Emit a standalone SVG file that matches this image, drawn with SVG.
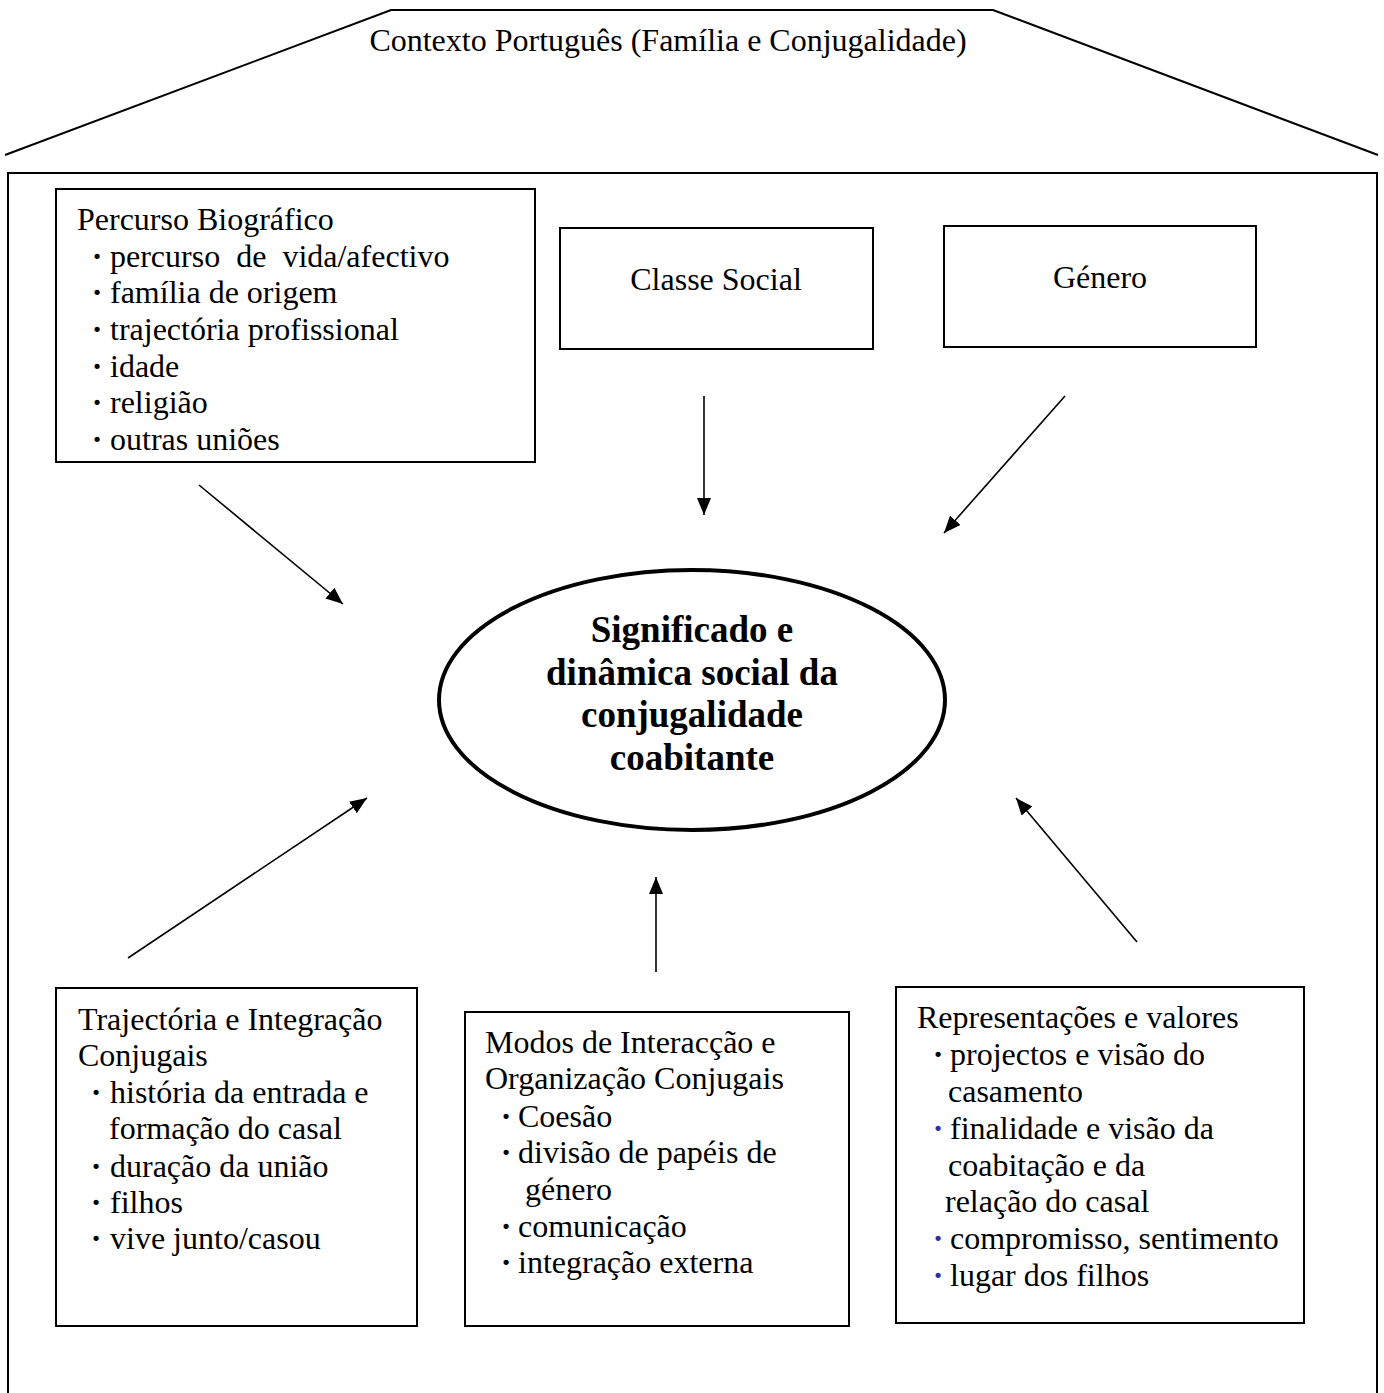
<svg xmlns="http://www.w3.org/2000/svg" width="1384" height="1393" viewBox="0 0 1384 1393">
<style>
text{font-family:"Liberation Serif","Times New Roman",serif;font-size:32px;fill:#000;white-space:pre}
.c{text-anchor:middle}
.b{font-weight:bold;font-size:37px}
.dot{text-anchor:middle;font-weight:bold}
.blue{fill:#2e2ea0}
.box{fill:#fff;stroke:#000;stroke-width:2}
.arr{stroke:#000;stroke-width:1.6;fill:none;marker-end:url(#ah)}
</style>
<defs>
<marker id="ah" markerUnits="userSpaceOnUse" markerWidth="18" markerHeight="14" refX="17" refY="7" orient="auto">
<path d="M0,0 L17,7 L0,14 z" fill="#000"/>
</marker>
</defs>
<rect width="1384" height="1393" fill="#fff"/>
<g id="context">
<polyline points="5,155 391,10 993,10 1378,155" fill="none" stroke="#000" stroke-width="2"/>
<path d="M8,1400 V173 H1377 V1400" fill="none" stroke="#000" stroke-width="2"/>
<text x="668" y="51" class="c">Contexto Português (Família e Conjugalidade)</text>
</g>
<g id="percurso">
<rect x="56" y="189" width="479" height="273" class="box"/>
<text x="77" y="230">Percurso Biográfico</text>
<text x="97" y="267" class="dot">·</text><text x="110" y="267">percurso  de  vida/afectivo</text>
<text x="97" y="303" class="dot">·</text><text x="110" y="303">família de origem</text>
<text x="97" y="340" class="dot">·</text><text x="110" y="340">trajectória profissional</text>
<text x="97" y="377" class="dot">·</text><text x="110" y="377">idade</text>
<text x="97" y="413" class="dot">·</text><text x="110" y="413">religião</text>
<text x="97" y="450" class="dot">·</text><text x="110" y="450">outras uniões</text>
</g>
<g id="classe">
<rect x="560" y="228" width="313" height="121" class="box"/>
<text x="716" y="290" class="c">Classe Social</text>
</g>
<g id="genero">
<rect x="944" y="226" width="312" height="121" class="box"/>
<text x="1100" y="288" class="c">Género</text>
</g>
<g id="centro">
<ellipse cx="692" cy="700" rx="253" ry="130" fill="#fff" stroke="#000" stroke-width="4"/>
<text x="692" y="642" class="c b">Significado e</text>
<text x="692" y="685" class="c b">dinâmica social da</text>
<text x="692" y="727" class="c b">conjugalidade</text>
<text x="692" y="770" class="c b">coabitante</text>
</g>
<g id="trajectoria">
<rect x="56" y="988" width="361" height="338" class="box"/>
<text x="78" y="1030">Trajectória e Integração</text>
<text x="78" y="1066">Conjugais</text>
<text x="96" y="1103" class="dot">·</text><text x="110" y="1103">história da entrada e</text>
<text x="109" y="1139">formação do casal</text>
<text x="96" y="1177" class="dot">·</text><text x="110" y="1177">duração da união</text>
<text x="96" y="1213" class="dot">·</text><text x="110" y="1213">filhos</text>
<text x="96" y="1249" class="dot">·</text><text x="110" y="1249">vive junto/casou</text>
</g>
<g id="modos">
<rect x="465" y="1012" width="384" height="314" class="box"/>
<text x="485" y="1053">Modos de Interacção e</text>
<text x="485" y="1089">Organização Conjugais</text>
<text x="506" y="1127" class="dot">·</text><text x="518" y="1127">Coesão</text>
<text x="506" y="1163" class="dot">·</text><text x="518" y="1163">divisão de papéis de</text>
<text x="525" y="1200">género</text>
<text x="506" y="1237" class="dot">·</text><text x="518" y="1237">comunicação</text>
<text x="506" y="1273" class="dot">·</text><text x="518" y="1273">integração externa</text>
</g>
<g id="representacoes">
<rect x="896" y="987" width="408" height="336" class="box"/>
<text x="917" y="1028">Representações e valores</text>
<text x="938" y="1065" class="dot">·</text><text x="950" y="1065">projectos e visão do</text>
<text x="948" y="1102">casamento</text>
<text x="938" y="1139" class="dot blue">·</text><text x="950" y="1139">finalidade e visão da</text>
<text x="948" y="1176">coabitação e da</text>
<text x="945" y="1212">relação do casal</text>
<text x="938" y="1249" class="dot blue">·</text><text x="950" y="1249">compromisso, sentimento</text>
<text x="938" y="1286" class="dot blue">·</text><text x="950" y="1286">lugar dos filhos</text>
</g>
<g id="connectors">
<line x1="199" y1="485" x2="343" y2="604" class="arr"/>
<line x1="704" y1="396" x2="704" y2="515" class="arr"/>
<line x1="1065" y1="396" x2="944" y2="533" class="arr"/>
<line x1="128" y1="958" x2="367" y2="798" class="arr"/>
<line x1="656" y1="972" x2="656" y2="877" class="arr"/>
<line x1="1137" y1="942" x2="1016" y2="798" class="arr"/>
</g>
</svg>
